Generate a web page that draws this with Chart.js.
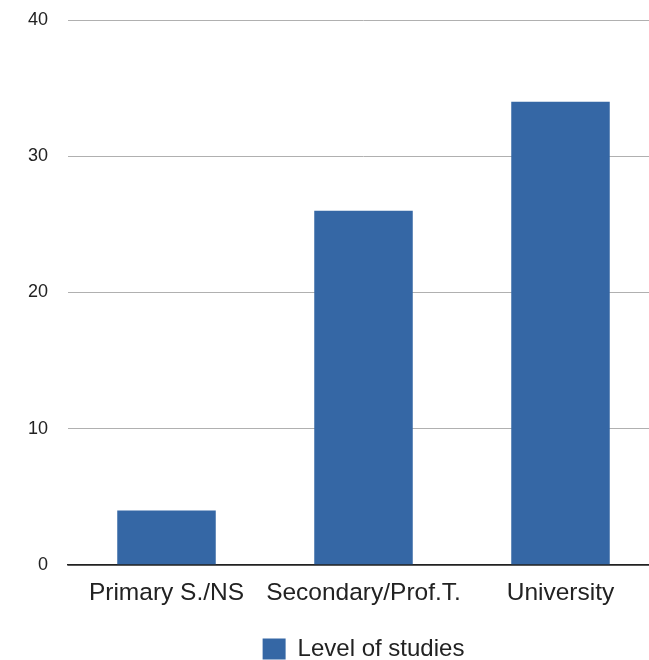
<!DOCTYPE html>
<html>
<head>
<meta charset="utf-8">
<script src="https://cdn.jsdelivr.net/npm/chart.js@4/dist/chart.umd.min.js"></script>
<style>
  html, body { margin: 0; padding: 0; background: #fff; }
  #frame { width: 649px; height: 660px; overflow: hidden; }
  #wrap { width: 659px; height: 660px; }
</style>
</head>
<body>
<div id="frame"><div id="wrap"><canvas id="chart"></canvas></div></div>
<script>
// Education levels and their counts
const categories = ['Primary S./NS', 'Secondary/Prof.T.', 'University'];
const seriesName = 'Level of studies';
const seriesValues = [4, 26, 34];
const yTicks = [0, 10, 20, 30, 40];

const FONT = '"Liberation Sans", Arial, Helvetica, sans-serif';
const BAR_COLOR = '#3567a5';

new Chart(document.getElementById('chart'), {
  type: 'bar',
  data: {
    labels: categories,
    datasets: [{
      label: seriesName,
      data: seriesValues,
      backgroundColor: BAR_COLOR,
      borderWidth: 0,
      categoryPercentage: 1,
      barPercentage: 0.5
    }]
  },
  options: {
    responsive: true,
    maintainAspectRatio: false,
    animation: false,
    layout: { padding: { top: 20, right: 0, bottom: -11, left: 0 } },
    plugins: {
      tooltip: { enabled: false },
      legend: {
        position: 'bottom',
        fullSize: false,
        labels: {
          color: '#222',
          font: { family: FONT, size: 24 },
          boxWidth: 23,
          boxHeight: 21,
          padding: 10
        }
      }
    },
    scales: {
      x: {
        grid: { display: false, drawTicks: false },
        border: { display: true, color: '#222', width: 1.5 },
        afterFit: (scale) => { scale.height = 62; },
        ticks: {
          color: '#222',
          font: { family: FONT, size: 24.5 },
          padding: 14,
          maxRotation: 0,
          autoSkip: false
        }
      },
      y: {
        min: yTicks[0],
        max: yTicks[yTicks.length - 1],
        afterBuildTicks: (scale) => { scale.ticks = yTicks.map(v => ({ value: v })); },
        afterFit: (scale) => {
          scale.width = 68;
          scale.paddingTop = 0;
          scale.paddingBottom = 0;
        },
        grid: {
          drawTicks: false,
          color: (ctx) => ctx.tick && ctx.tick.value === 0 ? '#222' : '#b0b0b0',
          lineWidth: (ctx) => ctx.tick && ctx.tick.value === 0 ? 1.5 : 1
        },
        border: { display: false },
        ticks: {
          color: '#222',
          font: { family: FONT, size: 18 },
          padding: 20
        }
      }
    }
  }
});
</script>
</body>
</html>
